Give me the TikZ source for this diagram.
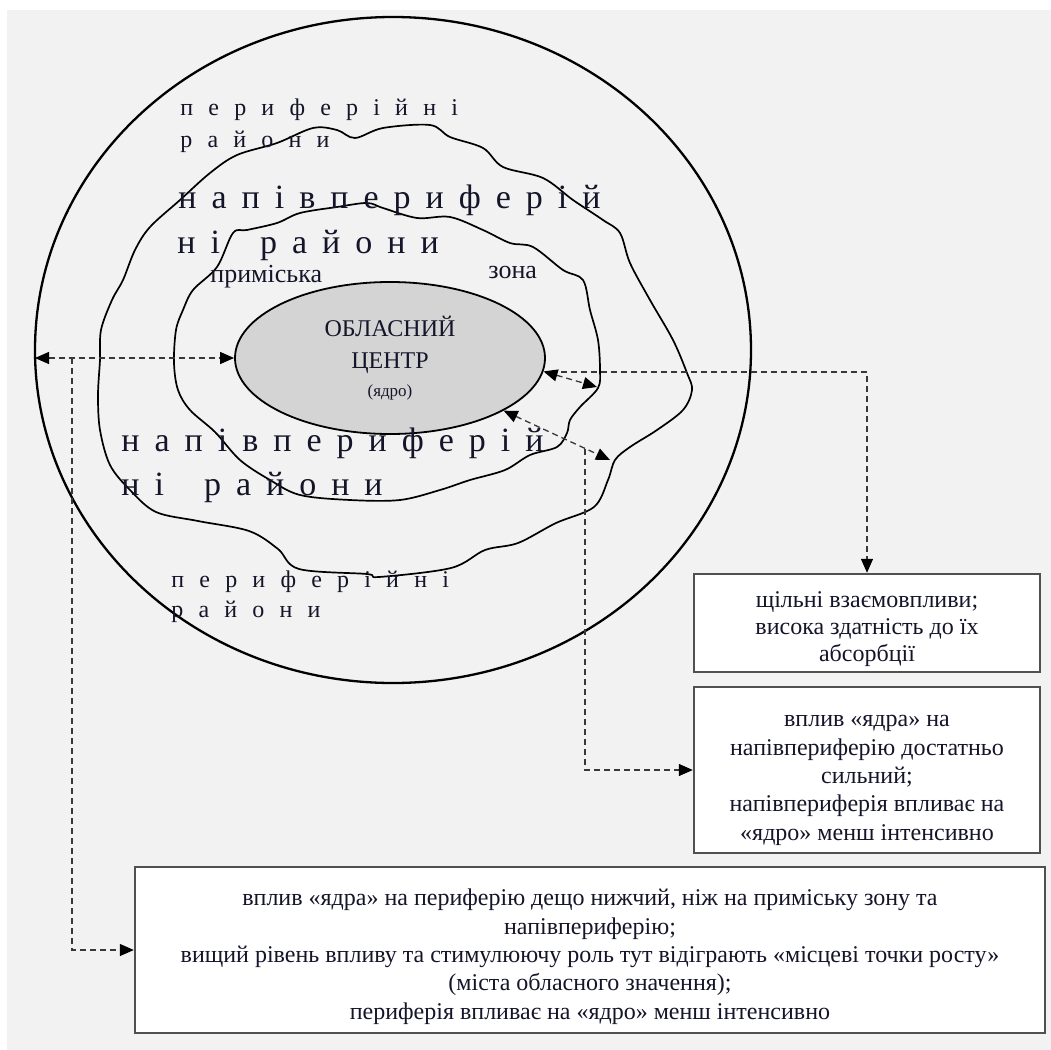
\documentclass[tikz,border=0pt]{standalone}
\usepackage{fontspec}
\setmainfont{Liberation Serif}
\usetikzlibrary{arrows.meta,shapes.geometric}
\definecolor{bgc}{HTML}{F2F2F2}
\definecolor{txt}{HTML}{15152A}
\definecolor{corefill}{HTML}{D4D4D4}
\definecolor{dlgray}{HTML}{383838}
\definecolor{boxgray}{HTML}{505050}
\newcommand\ltrsp[2]{{\spaceskip=#1\relax#2}}
\tikzset{ah/.tip={Triangle[length=7pt,width=6pt,color=black]}}
\begin{document}
\begin{tikzpicture}[x=0.5pt,y=-0.5pt,
  dline/.style={draw=dlgray,line width=0.65pt,dash pattern=on 3pt off 2pt},
  zone/.style={draw=black,line width=0.85pt},
  boxnode/.style={draw=boxgray,line width=1.2pt,fill=white,align=center,
    font=\fontsize{12pt}{14.2pt}\selectfont,text=txt,inner sep=2pt},
  lbl/.style={anchor=base west,inner sep=0pt,text=txt},
  sm/.style={font=\fontsize{12pt}{14pt}\selectfont},
  bg/.style={font=\fontsize{17pt}{20pt}\selectfont}]
\useasboundingbox (0,0) rectangle (1051,1050);
\fill[white] (0,0) rectangle (1051,1050);
\fill[bgc] (7,10) rectangle (1051,1050);

% outer circle
\node[ellipse,draw=black,line width=1.15pt,minimum width=358pt,minimum height=333pt,inner sep=0pt] (outer) at (393,350) {};

% semi-periphery boundary
\draw[zone] plot[smooth cycle,tension=0.55] coordinates {
(100,360) (101,330) (112,300) (123,280) (135,250) (150,227) (180,200) (210,173)
(237,155) (277,143) (313,128) (337,130) (355,138) (383,128) (430,125) (450,137)
(483,148) (503,167) (543,178) (573,200) (603,220) (620,233) (630,263) (650,300)
(673,340) (687,373) (692,390) (683,410) (657,430) (630,447) (615,460) (608,480)
(594,507) (556,523) (518,543) (485,550) (451,568) (379,577) (367,574) (299,569)
(278,549) (249,531) (198,521) (156,512) (130,490) (110,465) (100,430) (98,395)};

% suburban zone boundary
\draw[zone] plot[smooth cycle,tension=0.55] coordinates {
(174,363) (176,330) (183,310) (193,290) (217,267) (233,233) (247,230) (277,223)
(300,213) (337,207) (367,203) (383,208) (417,218) (450,217) (483,230) (510,243)
(533,247) (563,270) (583,280) (590,310) (598,340) (600,370) (598,388) (580,407)
(570,420) (567,433) (557,447) (530,455) (505,470) (470,480) (440,490) (400,500)
(350,500) (300,495) (270,480) (240,460) (215,432) (190,410) (178,390)};

% core
\node[ellipse,draw=black,line width=0.9pt,fill=corefill,minimum width=155pt,minimum height=76pt,
  inner sep=0pt,align=center,text=txt,font=\fontsize{12pt}{16pt}\selectfont] (core) at (390,358)
  {ОБЛАСНИЙ\\ЦЕНТР\\[-2pt]{\fontsize{8.5pt}{10pt}\selectfont(ядро)}};

% zone labels
\node[lbl,sm] (pu1) at (180,115) {\ltrsp{7.6pt}{п е р и ф е р і й н і}};
\node[lbl,sm] (pu2) at (180,147) {\ltrsp{7.6pt}{р а й о н и}};
\node[lbl,bg] (nu1) at (178,208) {\ltrsp{7.5pt}{н а п і в п е р и ф е р і й}};
\node[lbl,bg] (nu2) at (177,253) {\ltrsp{7.5pt}{н і\hspace{20pt}р а й о н и}};
\node[lbl,font=\fontsize{13pt}{15pt}\selectfont] (pr) at (210,282) {приміська};
\node[lbl,font=\fontsize{13pt}{15pt}\selectfont] (zn) at (488,278) {зона};
\node[lbl,bg] (nl1) at (121,451) {\ltrsp{7.5pt}{н а п і в п е р и ф е р і й}};
\node[lbl,bg] (nl2) at (121,495) {\ltrsp{7.5pt}{н і\hspace{20pt}р а й о н и}};
\node[lbl,sm] (pl1) at (171,587) {\ltrsp{7.6pt}{п е р и ф е р і й н і}};
\node[lbl,sm] (pl2) at (171,617) {\ltrsp{7.6pt}{р а й о н и}};

% boxes
\node[boxnode,font=\fontsize{12pt}{13.4pt}\selectfont,minimum width=173pt,minimum height=49pt] (box1) at (867,623)
  {\rule{0pt}{14pt}щільні взаємовпливи;\\висока здатність до їх\\абсорбції};
\node[boxnode,minimum width=173pt,minimum height=83pt] (box2) at (867,770)
  {\rule{0pt}{16pt}вплив «ядра» на\\напівпериферію достатньо\\сильний;\\напівпериферія впливає на\\«ядро» менш інтенсивно};
\node[boxnode,minimum width=455pt,minimum height=83pt] (box3) at (590,950)
  {\rule{0pt}{15pt}вплив «ядра» на периферію дещо нижчий, ніж на приміську зону та\\напівпериферію;\\вищий рівень впливу та стимулюючу роль тут відіграють «місцеві точки росту»\\(міста обласного значення);\\периферія впливає на «ядро» менш інтенсивно};

% connector points
\coordinate (pl) at (35,358);
\coordinate (jl) at (72,358);
\coordinate (t1) at (597,387);
\coordinate (j1) at (561,372);
\coordinate (t2) at (610,460);
\coordinate (j2) at (585,449);

\draw[dline,ah-ah] (pl) -- (core.west);
\draw[dline,-ah] (jl) |- (box3.west);
\draw[dline,ah-ah] (core.-5) -- (t1);
\draw[dline,-ah] (j1) -| (box1.north);
\draw[dline,ah-ah] (core) -- (t2);
\draw[dline,-ah] (j2) |- (box2.west);
\end{tikzpicture}
\end{document}
